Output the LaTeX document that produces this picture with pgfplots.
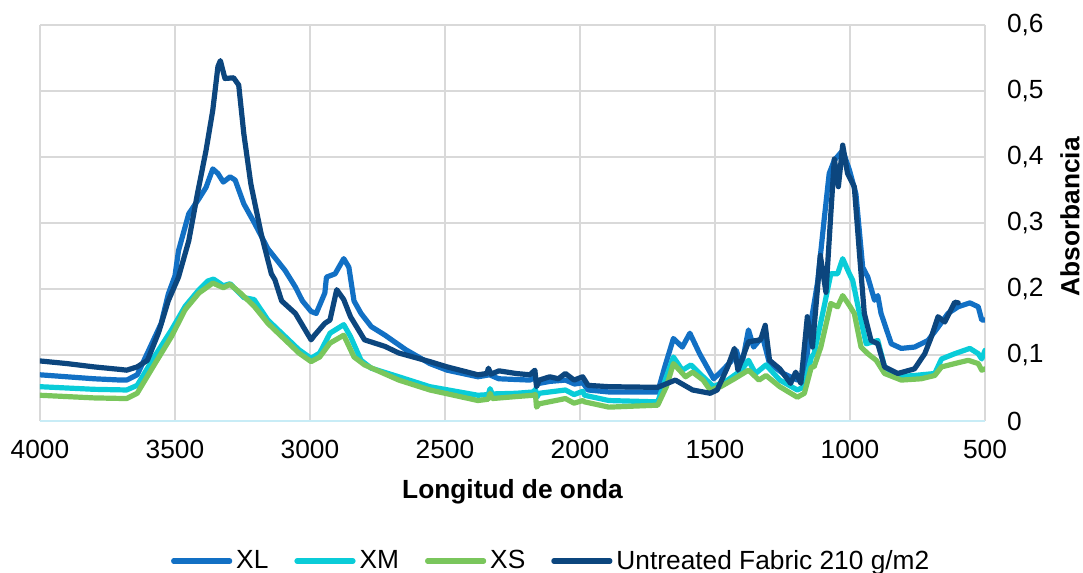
\documentclass[border=0pt]{standalone}
\usepackage{fontspec}
\setmainfont{Liberation Sans}
\usepackage{pgfplots}
\pgfplotsset{compat=1.18}

\definecolor{cXL}{RGB}{18,112,196}
\definecolor{cXM}{RGB}{10,204,216}
\definecolor{cXS}{RGB}{122,198,92}
\definecolor{cUT}{RGB}{12,70,126}
\definecolor{gridgray}{RGB}{217,217,217}
\definecolor{axcyan}{RGB}{200,236,246}

\newcommand{\chartfont}{\fontsize{13.2}{15.8}\selectfont}

\begin{document}
\begin{tikzpicture}
\begin{axis}[
    at={(0,0)}, anchor=south west,
    scale only axis, width=472.5bp, height=198bp,
    x dir=reverse,
    xmin=500, xmax=4000, ymin=0, ymax=0.6,
    xtick={500,1000,1500,2000,2500,3000,3500,4000},
    ytick={0,0.1,0.2,0.3,0.4,0.5,0.6},
    grid=major,
    major grid style={draw=gridgray, line width=1bp},
    axis line style={draw=none},
    major tick length=0pt,
    yticklabel pos=right,
    /pgf/number format/assume math mode=true,
    ticklabel style={font=\chartfont, text=black},
    xticklabel style={/pgf/number format/1000 sep={}, anchor=base, yshift=-18.5bp},
    yticklabel style={/pgf/number format/use comma, /pgf/number format/fixed,
        /pgf/number format/precision=1, anchor=west, xshift=7.5bp},
    extra y ticks={0}, extra y tick labels={},
    extra y tick style={grid=major, major grid style={draw=axcyan, line width=1.2bp}},
    xlabel={Longitud de onda},
    ylabel={Absorbancia},
    every axis x label/.style={at={(axis description cs:0.5,0)}, anchor=center,
        yshift=-35.5bp, font=\bfseries\chartfont},
    every axis y label/.style={at={(axis description cs:1,0.5)}, anchor=center,
        xshift=42.5bp, yshift=3bp, rotate=90, font=\bfseries\chartfont},
    legend columns=4,
    legend style={at={(axis description cs:0.542,0)}, anchor=center, yshift=-70bp,
        draw=none, fill=none, font=\chartfont,
        /tikz/every even column/.append style={column sep=11bp}},
    legend image code/.code={\draw[#1] (0bp,0bp) -- (28bp,0bp);},
    every axis plot/.append style={line width=2.6bp, line join=round, line cap=round},
]

% XL
\addplot[color=cXL] coordinates {
(4000,0.070)(3900,0.067)(3800,0.064)(3700,0.062)(3679,0.062)(3640,0.070)(3602,0.103)
(3551,0.148)(3525,0.192)(3500,0.220)(3487,0.258)(3449,0.314)(3411,0.337)(3385,0.354)
(3360,0.382)(3341,0.375)(3321,0.362)(3296,0.370)(3277,0.365)(3245,0.329)(3207,0.301)
(3156,0.261)(3092,0.228)(3054,0.203)(3028,0.182)(2996,0.166)(2977,0.163)(2945,0.194)
(2939,0.218)(2907,0.223)(2875,0.246)(2856,0.233)(2837,0.182)(2811,0.163)(2773,0.143)
(2722,0.130)(2645,0.108)(2556,0.087)(2492,0.077)(2378,0.067)(2335,0.070)(2301,0.064)
(2186,0.062)(2165,0.066)(2160,0.055)(2151,0.057)(2112,0.060)(2054,0.062)(2020,0.056)
(1990,0.058)(1970,0.047)(1893,0.044)(1712,0.044)(1686,0.082)(1654,0.125)(1621,0.112)
(1593,0.133)(1557,0.102)(1505,0.064)(1479,0.074)(1441,0.090)(1421,0.107)(1402,0.082)
(1376,0.138)(1357,0.112)(1324,0.128)(1298,0.087)(1247,0.072)(1195,0.062)(1169,0.067)
(1143,0.153)(1120,0.210)(1096,0.304)(1077,0.375)(1058,0.395)(1027,0.410)(1002,0.380)
(978,0.344)(953,0.233)(934,0.218)(909,0.183)(897,0.190)(885,0.163)(847,0.117)
(810,0.110)(761,0.112)(711,0.122)(674,0.142)(637,0.163)(600,0.173)(556,0.179)
(525,0.173)(512,0.153)(500,0.153)
};
\addlegendentry{XL}

% XM
\addplot[color=cXM] coordinates {
(4000,0.052)(3900,0.050)(3800,0.048)(3679,0.047)(3640,0.054)(3577,0.097)(3513,0.138)
(3462,0.174)(3411,0.199)(3379,0.212)(3357,0.215)(3321,0.205)(3296,0.208)(3245,0.187)
(3207,0.184)(3156,0.153)(3105,0.133)(3041,0.108)(2996,0.095)(2964,0.103)(2926,0.133)
(2875,0.146)(2850,0.128)(2811,0.092)(2773,0.080)(2671,0.067)(2556,0.052)(2378,0.039)
(2340,0.040)(2333,0.049)(2325,0.041)(2237,0.042)(2173,0.044)(2165,0.048)(2160,0.036)
(2151,0.042)(2054,0.047)(2022,0.040)(1990,0.045)(1983,0.039)(1893,0.031)(1712,0.029)
(1680,0.067)(1654,0.097)(1621,0.077)(1589,0.085)(1544,0.067)(1505,0.052)(1453,0.062)
(1402,0.077)(1376,0.092)(1350,0.072)(1311,0.085)(1260,0.062)(1195,0.047)(1169,0.052)
(1143,0.097)(1133,0.102)(1096,0.173)(1071,0.223)(1046,0.223)(1027,0.246)(1002,0.223)
(990,0.213)(965,0.163)(940,0.117)(897,0.122)(872,0.082)(823,0.067)(761,0.069)
(686,0.072)(661,0.094)(612,0.102)(556,0.110)(525,0.102)(512,0.094)(500,0.107)
};
\addlegendentry{XM}

% XS
\addplot[color=cXS] coordinates {
(4000,0.039)(3900,0.037)(3800,0.035)(3679,0.034)(3640,0.042)(3577,0.085)(3513,0.128)
(3462,0.169)(3411,0.194)(3360,0.209)(3321,0.202)(3296,0.207)(3258,0.194)(3207,0.174)
(3156,0.148)(3105,0.128)(3041,0.103)(2996,0.090)(2964,0.097)(2926,0.118)(2875,0.130)
(2837,0.097)(2798,0.085)(2671,0.062)(2556,0.047)(2378,0.031)(2340,0.033)(2333,0.042)
(2325,0.034)(2237,0.037)(2173,0.039)(2165,0.040)(2161,0.021)(2151,0.026)(2054,0.034)
(2022,0.027)(1990,0.031)(1983,0.029)(1893,0.021)(1712,0.024)(1680,0.052)(1654,0.087)
(1609,0.067)(1583,0.074)(1544,0.062)(1518,0.047)(1479,0.052)(1428,0.064)(1376,0.077)
(1337,0.062)(1311,0.069)(1260,0.052)(1195,0.036)(1169,0.042)(1143,0.082)(1133,0.082)
(1108,0.112)(1071,0.178)(1046,0.173)(1027,0.190)(1002,0.175)(984,0.163)(959,0.112)
(934,0.102)(903,0.092)(872,0.072)(810,0.062)(736,0.064)(686,0.069)(661,0.082)
(612,0.087)(562,0.092)(525,0.087)(512,0.077)(500,0.079)
};
\addlegendentry{XS}

% Untreated fabric
\addplot[color=cUT] coordinates {
(4000,0.091)(3900,0.087)(3800,0.082)(3700,0.078)(3679,0.077)(3640,0.082)(3602,0.092)
(3560,0.135)(3525,0.182)(3487,0.218)(3449,0.273)(3417,0.344)(3385,0.410)(3360,0.471)
(3341,0.537)(3332,0.546)(3315,0.519)(3283,0.520)(3264,0.509)(3245,0.435)(3219,0.359)
(3181,0.284)(3143,0.223)(3130,0.214)(3105,0.182)(3054,0.163)(2996,0.123)(2983,0.130)
(2945,0.148)(2926,0.153)(2901,0.199)(2875,0.184)(2850,0.158)(2798,0.123)(2722,0.113)
(2671,0.103)(2556,0.090)(2492,0.082)(2378,0.070)(2345,0.072)(2339,0.080)(2330,0.071)
(2300,0.076)(2237,0.072)(2186,0.070)(2167,0.077)(2161,0.052)(2151,0.062)(2112,0.067)
(2080,0.064)(2054,0.072)(2022,0.062)(1990,0.067)(1970,0.054)(1893,0.052)(1712,0.051)
(1647,0.062)(1583,0.047)(1518,0.042)(1492,0.047)(1453,0.082)(1428,0.110)(1415,0.077)
(1376,0.120)(1331,0.123)(1314,0.145)(1298,0.092)(1260,0.079)(1220,0.057)(1201,0.074)
(1182,0.057)(1158,0.158)(1139,0.112)(1110,0.251)(1089,0.195)(1071,0.314)(1058,0.397)
(1043,0.355)(1027,0.418)(1009,0.375)(984,0.355)(965,0.254)(947,0.163)(922,0.122)
(897,0.117)(872,0.082)(823,0.072)(761,0.079)(723,0.102)(699,0.127)(674,0.158)
(649,0.150)(612,0.180)(599,0.179)
};
\addlegendentry{Untreated Fabric 210 g/m2}

\end{axis}
\pgfresetboundingbox
\path[use as bounding box] (-20bp,-76bp) rectangle (521.5bp,210.5bp);
\end{tikzpicture}
\end{document}
